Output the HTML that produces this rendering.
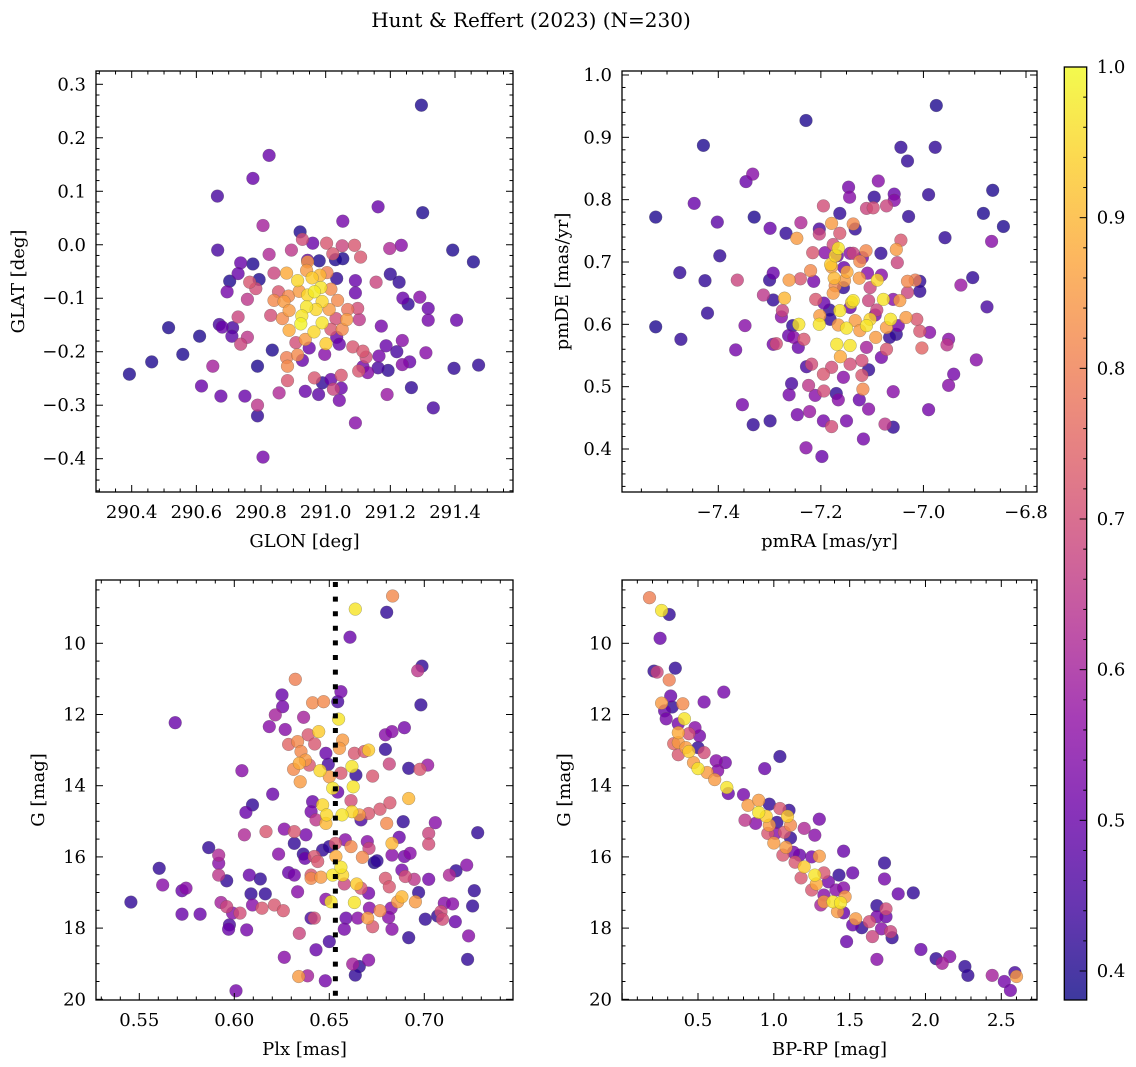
<!DOCTYPE html>
<html><head><meta charset="utf-8"><title>Hunt & Reffert (2023)</title>
<style>
html,body{margin:0;padding:0;background:#fff;}
svg{display:block;font-family:"DejaVu Serif","Liberation Serif",serif;}
</style></head>
<body>
<svg id="fig" xmlns="http://www.w3.org/2000/svg" width="1136" height="1067" viewBox="0 0 1136 1067">
<rect width="1136" height="1067" fill="#fff"/>
<text x="531" y="27" text-anchor="middle" font-size="20">Hunt &amp; Reffert (2023) (N=230)</text>
</svg>
<script>
// ---------- DATA (value, value, membership probability) ----------
const tlPoints = [
[291.296,0.261,.4],[290.825,0.167,.5],[290.775,0.124,.5],[290.665,0.091,.45],[291.162,0.071,.5],[291.3,0.06,.4],[291.053,0.044,.52],[290.806,0.036,.6],[290.921,0.024,.4],[290.928,0.01,.7],[290.96,0.003,.5],[291.003,0.003,.72],[291.051,-0.002,.68],[291.089,-0.001,.72],[291.022,-0.017,.72],[291.108,-0.023,.72],[291.03,-0.028,.4],[291.053,-0.026,.4],[290.98,-0.03,.4],[290.944,-0.029,.5],[290.894,-0.01,.65],[290.825,-0.018,.62],[290.666,-0.01,.45],[291.198,-0.007,.62],[291.234,-0.001,.55],[291.393,-0.01,.4],[291.457,-0.032,.4],[290.737,-0.034,.5],[290.775,-0.036,.4],[290.729,-0.054,.5],[290.703,-0.068,.4],[290.695,-0.088,.52],[290.794,-0.065,.4],[290.765,-0.07,.72],[290.784,-0.082,.7],[290.84,-0.053,.68],[290.879,-0.053,.88],[290.913,-0.067,.95],[290.944,-0.032,.85],[290.941,-0.048,.85],[290.958,-0.062,.93],[290.982,-0.057,.9],[291.004,-0.052,.8],[291.034,-0.063,.42],[291.016,-0.083,.82],[290.985,-0.08,.97],[290.965,-0.088,.98],[290.944,-0.094,.95],[290.918,-0.087,.85],[290.885,-0.096,.82],[290.854,-0.088,.72],[290.84,-0.104,.82],[290.871,-0.106,.85],[290.989,-0.106,.95],[291.037,-0.104,.82],[291.092,-0.067,.5],[291.092,-0.09,.5],[291.156,-0.07,.68],[291.2,-0.055,.42],[291.227,-0.07,.42],[291.239,-0.1,.5],[291.255,-0.111,.42],[291.291,-0.098,.55],[291.317,-0.119,.5],[291.317,-0.141,.52],[291.405,-0.141,.5],[290.758,-0.102,.65],[290.887,-0.123,.85],[290.941,-0.116,.97],[290.97,-0.121,.95],[291.011,-0.121,.85],[291.068,-0.121,.78],[291.099,-0.119,.7],[291.104,-0.14,.65],[291.065,-0.14,.85],[291.032,-0.138,.7],[290.989,-0.146,.97],[290.926,-0.133,.97],[290.923,-0.148,.99],[290.866,-0.138,.82],[290.83,-0.132,.7],[290.729,-0.135,.68],[290.671,-0.149,.45],[290.68,-0.154,.5],[290.712,-0.155,.45],[290.71,-0.171,.48],[290.758,-0.173,.65],[290.737,-0.186,.68],[290.887,-0.16,.88],[290.964,-0.163,.95],[291.016,-0.158,.72],[291.051,-0.158,.82],[291.034,-0.173,.5],[291.042,-0.186,.5],[291.001,-0.185,.93],[290.937,-0.177,.85],[290.908,-0.183,.7],[290.949,-0.193,.5],[290.997,-0.205,.55],[290.913,-0.206,.82],[290.879,-0.211,.8],[290.928,-0.216,.5],[290.882,-0.227,.82],[290.835,-0.197,.4],[290.789,-0.227,.4],[290.651,-0.227,.6],[290.514,-0.155,.4],[290.61,-0.171,.4],[290.558,-0.205,.4],[290.462,-0.219,.4],[290.393,-0.242,.4],[290.616,-0.264,.5],[290.676,-0.283,.5],[290.75,-0.283,.5],[290.789,-0.3,.65],[290.789,-0.32,.42],[290.806,-0.397,.52],[290.856,-0.277,.62],[290.882,-0.254,.72],[290.937,-0.274,.5],[290.965,-0.249,.72],[290.99,-0.258,.42],[291.016,-0.252,.5],[290.978,-0.28,.48],[291.024,-0.27,.68],[291.048,-0.268,.5],[291.042,-0.291,.52],[291.048,-0.244,.72],[291.084,-0.191,.72],[291.115,-0.199,.72],[291.125,-0.21,.7],[291.102,-0.236,.72],[291.115,-0.228,.52],[291.13,-0.239,.55],[291.162,-0.23,.45],[291.165,-0.208,.52],[291.172,-0.152,.52],[291.187,-0.189,.5],[291.193,-0.235,.42],[291.22,-0.2,.45],[291.237,-0.179,.55],[291.237,-0.224,.55],[291.26,-0.219,.5],[291.31,-0.202,.55],[291.19,-0.28,.58],[291.265,-0.267,.42],[291.333,-0.305,.45],[291.092,-0.333,.55],[291.397,-0.231,.42],[291.473,-0.225,.42]
];
const trPoints = [
[-6.975,0.951,.4],[-7.229,0.927,.4],[-7.429,0.887,.4],[-7.044,0.884,.42],[-6.977,0.884,.42],[-7.031,0.862,.42],[-7.333,0.841,.55],[-7.346,0.829,.5],[-7.447,0.794,.5],[-7.088,0.83,.55],[-7.146,0.82,.52],[-7.144,0.804,.55],[-7.096,0.804,.42],[-7.057,0.809,.5],[-7.057,0.799,.55],[-6.99,0.808,.42],[-6.865,0.815,.4],[-6.883,0.778,.4],[-6.844,0.757,.4],[-6.867,0.733,.55],[-6.958,0.739,.42],[-7.522,0.772,.4],[-7.402,0.764,.48],[-7.33,0.772,.4],[-7.299,0.754,.5],[-7.268,0.746,.42],[-7.247,0.738,.85],[-7.239,0.763,.62],[-7.195,0.79,.7],[-7.163,0.778,.42],[-7.111,0.786,.68],[-7.098,0.787,.7],[-7.072,0.79,.68],[-7.029,0.773,.42],[-7.203,0.753,.45],[-7.203,0.745,.68],[-7.179,0.762,.85],[-7.163,0.746,.72],[-7.137,0.761,.82],[-7.133,0.753,.42],[-7.397,0.71,.42],[-7.475,0.683,.42],[-7.426,0.67,.42],[-7.421,0.618,.42],[-7.522,0.596,.4],[-7.473,0.576,.42],[-7.363,0.671,.68],[-7.366,0.559,.52],[-7.348,0.598,.55],[-7.312,0.647,.65],[-7.293,0.682,.5],[-7.3,0.671,.42],[-7.293,0.639,.42],[-7.275,0.622,.68],[-7.277,0.612,.55],[-7.271,0.642,.9],[-7.262,0.671,.85],[-7.24,0.673,.72],[-7.22,0.686,.82],[-7.216,0.715,.72],[-7.214,0.669,.52],[-7.21,0.64,.72],[-7.243,0.6,.97],[-7.255,0.598,.42],[-7.263,0.582,.5],[-7.253,0.579,.55],[-7.233,0.576,.72],[-7.244,0.563,.5],[-7.287,0.569,.7],[-7.293,0.568,.52],[-7.192,0.715,.55],[-7.176,0.728,.7],[-7.166,0.722,.97],[-7.172,0.71,.95],[-7.181,0.696,.93],[-7.179,0.692,.85],[-7.168,0.71,.5],[-7.143,0.714,.55],[-7.137,0.714,.68],[-7.112,0.718,.82],[-7.124,0.701,.82],[-7.119,0.707,.52],[-7.083,0.714,.42],[-7.051,0.699,.68],[-7.053,0.72,.85],[-7.044,0.735,.72],[-7.155,0.691,.5],[-7.149,0.684,.88],[-7.154,0.67,.85],[-7.174,0.674,.9],[-7.125,0.674,.85],[-7.109,0.682,.55],[-7.09,0.671,.95],[-7.082,0.679,.55],[-7.104,0.659,.68],[-7.156,0.659,.42],[-7.176,0.65,.85],[-7.172,0.662,.82],[-7.194,0.634,.5],[-7.183,0.623,.42],[-7.163,0.622,.97],[-7.143,0.627,.5],[-7.137,0.638,.97],[-7.14,0.635,.95],[-7.107,0.638,.68],[-7.091,0.623,.68],[-7.078,0.64,.97],[-7.059,0.64,.55],[-7.046,0.638,.85],[-7.031,0.651,.68],[-7.031,0.669,.82],[-7.016,0.671,.8],[-7.007,0.669,.42],[-7.007,0.653,.42],[-6.927,0.663,.58],[-6.904,0.675,.42],[-6.876,0.628,.45],[-7.202,0.614,.85],[-7.203,0.6,.97],[-7.182,0.608,.42],[-7.166,0.599,.85],[-7.15,0.594,.97],[-7.133,0.606,.85],[-7.124,0.59,.85],[-7.111,0.598,.97],[-7.104,0.608,.95],[-7.094,0.615,.52],[-7.072,0.595,.85],[-7.064,0.608,.97],[-7.049,0.598,.52],[-7.053,0.584,.42],[-7.066,0.579,.42],[-7.034,0.611,.85],[-7.013,0.608,.72],[-7.007,0.589,.72],[-6.988,0.587,.55],[-6.951,0.576,.55],[-6.954,0.567,.65],[-7.003,0.562,.75],[-6.897,0.543,.55],[-6.941,0.52,.52],[-6.951,0.502,.55],[-6.99,0.463,.52],[-7.169,0.568,.97],[-7.143,0.566,.97],[-7.162,0.548,.88],[-7.111,0.563,.6],[-7.093,0.579,.85],[-7.072,0.56,.72],[-7.082,0.547,.52],[-7.12,0.542,.7],[-7.107,0.527,.42],[-7.12,0.518,.72],[-7.118,0.496,.82],[-7.143,0.536,.7],[-7.179,0.531,.7],[-7.218,0.536,.7],[-7.228,0.532,.45],[-7.195,0.52,.72],[-7.156,0.515,.55],[-7.257,0.505,.45],[-7.224,0.502,.65],[-7.194,0.493,.7],[-7.17,0.489,.42],[-7.211,0.486,.55],[-7.262,0.487,.52],[-7.166,0.479,.55],[-7.125,0.479,.5],[-7.059,0.492,.55],[-7.107,0.464,.55],[-7.222,0.46,.58],[-7.246,0.455,.52],[-7.353,0.471,.52],[-7.332,0.439,.42],[-7.299,0.445,.42],[-7.195,0.445,.52],[-7.179,0.436,.7],[-7.15,0.445,.52],[-7.075,0.44,.65],[-7.059,0.435,.42],[-7.117,0.416,.52],[-7.229,0.402,.55],[-7.198,0.388,.5]
];
const blPoints = [
[0.6833,8.67,.82],[0.6637,9.04,.97],[0.6802,9.13,.42],[0.6609,9.83,.5],[0.6988,10.64,.42],[0.6965,10.77,.65],[0.6982,11.73,.42],[0.6321,11.01,.8],[0.6561,11.36,.52],[0.6251,11.45,.5],[0.6412,11.67,.82],[0.647,11.64,.82],[0.6544,11.64,.45],[0.6254,11.78,.52],[0.6216,12.01,.6],[0.6184,12.34,.55],[0.6268,12.42,.55],[0.6365,12.08,.6],[0.6549,12.13,.97],[0.5689,12.23,.5],[0.6444,12.48,.93],[0.6389,12.57,.72],[0.6286,12.84,.75],[0.6333,12.76,.82],[0.6423,12.83,.72],[0.657,12.72,.85],[0.6553,12.95,.85],[0.6482,13.09,.5],[0.6351,13.04,.82],[0.6374,13.28,.85],[0.6342,13.37,.88],[0.6312,13.54,.82],[0.6395,13.42,.72],[0.6495,13.4,.45],[0.6451,13.58,.95],[0.65,13.75,.85],[0.6347,13.89,.85],[0.6561,13.65,.72],[0.664,13.7,.42],[0.6632,13.09,.72],[0.6684,13.04,.72],[0.6707,13.0,.93],[0.6619,13.46,.97],[0.6728,13.73,.72],[0.6816,13.39,.68],[0.6795,12.98,.42],[0.6795,12.57,.55],[0.683,12.48,.55],[0.6895,12.37,.52],[0.6918,13.51,.42],[0.6977,13.54,.72],[0.7018,13.42,.58],[0.604,13.58,.55],[0.6202,14.24,.5],[0.6518,14.07,.97],[0.6544,14.18,.5],[0.6626,14.03,.97],[0.6412,14.45,.5],[0.6465,14.54,.95],[0.6404,14.73,.52],[0.643,14.96,.65],[0.6486,14.82,.95],[0.6482,15.06,.9],[0.6567,14.82,.97],[0.6619,14.73,.95],[0.6658,14.82,.85],[0.6667,14.96,.45],[0.6614,14.42,.7],[0.6707,14.78,.72],[0.6767,14.66,.72],[0.6819,14.48,.72],[0.6918,14.36,.9],[0.6802,15.06,.82],[0.6889,15.01,.42],[0.7058,15.04,.55],[0.6096,14.54,.42],[0.6061,14.75,.5],[0.7281,15.32,.42],[0.6053,15.38,.62],[0.6167,15.29,.72],[0.6263,15.22,.55],[0.6316,15.29,.72],[0.6377,15.38,.52],[0.6316,15.62,.42],[0.5865,15.74,.42],[0.5918,15.95,.62],[0.5918,16.18,.55],[0.6233,15.92,.55],[0.6363,15.92,.42],[0.6372,16.04,.5],[0.6421,15.99,.72],[0.6439,16.13,.72],[0.6465,15.81,.42],[0.65,15.71,.42],[0.6532,15.62,.72],[0.6535,15.99,.88],[0.6584,15.52,.55],[0.6614,15.71,.82],[0.67,15.57,.55],[0.6709,15.76,.68],[0.6674,16.01,.82],[0.6737,16.16,.4],[0.6751,16.11,.42],[0.683,15.62,.9],[0.6868,15.45,.5],[0.683,15.95,.55],[0.6895,15.99,.52],[0.6925,15.9,.55],[0.7023,15.34,.68],[0.7023,15.64,.7],[0.5605,16.32,.42],[0.5623,16.79,.55],[0.5725,16.95,.5],[0.5746,16.88,.55],[0.5456,17.27,.42],[0.5725,17.61,.5],[0.582,17.61,.5],[0.5918,16.51,.65],[0.596,16.67,.42],[0.6079,16.51,.5],[0.6137,16.62,.42],[0.6286,16.44,.5],[0.6316,16.51,.52],[0.6404,16.51,.72],[0.6404,16.6,.82],[0.6456,16.57,.85],[0.6518,16.51,.97],[0.6561,16.29,.97],[0.657,16.51,.95],[0.6579,16.76,.68],[0.6644,16.76,.93],[0.6667,16.88,.72],[0.6707,17.02,.52],[0.6795,16.6,.72],[0.6816,16.84,.72],[0.6882,16.37,.52],[0.69,16.55,.7],[0.6947,16.63,.65],[0.7023,16.63,.52],[0.7132,16.51,.62],[0.7167,16.39,.42],[0.7223,16.23,.55],[0.7263,16.95,.42],[0.7254,17.38,.42],[0.697,17.0,.42],[0.6882,17.12,.9],[0.686,17.26,.85],[0.6953,17.26,.85],[0.6088,17.04,.42],[0.6163,17.04,.42],[0.6333,16.98,.55],[0.593,17.28,.6],[0.596,17.4,.68],[0.5991,17.58,.55],[0.603,17.58,.7],[0.6096,17.35,.55],[0.6146,17.44,.72],[0.6211,17.35,.72],[0.6258,17.51,.72],[0.6482,17.19,.55],[0.6509,17.26,.97],[0.6632,17.28,.97],[0.6711,17.44,.55],[0.6767,17.51,.82],[0.6825,17.44,.55],[0.6812,17.7,.55],[0.7105,17.3,.55],[0.7149,17.32,.55],[0.7088,17.54,.7],[0.7096,17.75,.7],[0.7005,17.75,.42],[0.707,17.66,.42],[0.7163,17.82,.5],[0.5974,17.91,.45],[0.597,18.03,.5],[0.6065,18.05,.52],[0.6404,17.72,.45],[0.6421,17.72,.7],[0.6588,17.72,.5],[0.665,17.72,.55],[0.6702,17.72,.85],[0.6728,17.96,.72],[0.6579,18.03,.52],[0.683,18.03,.55],[0.6918,18.27,.42],[0.6342,18.15,.68],[0.65,18.38,.45],[0.643,18.61,.5],[0.6263,18.82,.55],[0.7233,18.22,.55],[0.7228,18.88,.42],[0.6707,18.9,.55],[0.6623,19.01,.6],[0.6658,19.08,.42],[0.6637,19.32,.42],[0.6339,19.36,.85],[0.6386,19.34,.6],[0.6479,19.48,.52],[0.6009,19.76,.52]
];
const brPoints = [
[0.18,8.72,.8],[0.26,9.08,.97],[0.31,9.19,.42],[0.25,9.86,.5],[0.23,10.81,.68],[0.21,10.78,.42],[0.35,10.7,.42],[0.31,11.03,.8],[0.67,11.37,.52],[0.54,11.65,.52],[0.26,11.68,.85],[0.32,11.48,.5],[0.4,11.7,.82],[0.33,11.79,.42],[0.28,11.9,.5],[0.41,12.12,.97],[0.29,12.12,.52],[0.37,12.26,.52],[0.48,12.37,.55],[0.51,12.6,.52],[0.37,12.51,.88],[0.44,12.54,.7],[0.34,12.82,.75],[0.37,12.79,.85],[0.42,12.93,.85],[0.5,12.93,.42],[0.44,13.04,.93],[0.37,13.13,.72],[0.54,13.07,.7],[0.47,13.35,.85],[0.5,13.52,.97],[0.62,13.3,.55],[0.68,13.35,.52],[0.63,13.58,.55],[0.56,13.63,.85],[0.61,13.83,.85],[0.69,14.05,.97],[0.7,14.22,.5],[1.04,13.18,.42],[0.94,13.52,.5],[0.8,14.25,.52],[0.83,14.55,.85],[0.9,14.41,.85],[0.97,14.52,.42],[0.9,14.75,.97],[0.95,14.86,.93],[0.81,14.97,.65],[0.88,15.06,.55],[1.04,14.64,.72],[1.1,14.69,.42],[1.09,14.86,.93],[1.02,15.03,.42],[0.97,15.11,.85],[1.11,15.11,.82],[0.96,15.34,.72],[1.01,15.34,.55],[1.07,15.31,.72],[1.11,15.47,.42],[1.3,14.94,.52],[1.2,15.2,.62],[1.27,15.39,.55],[1.0,15.61,.85],[1.08,15.73,.85],[1.06,15.95,.72],[1.13,15.87,.52],[1.17,15.95,.5],[1.25,16.0,.52],[1.3,15.98,.85],[1.14,16.15,.72],[1.2,16.28,.93],[1.46,15.84,.5],[1.27,16.51,.97],[1.33,16.45,.72],[1.43,16.51,.42],[1.52,16.45,.5],[1.18,16.59,.72],[1.28,16.76,.88],[1.25,16.93,.72],[1.36,16.7,.52],[1.41,16.93,.55],[1.46,16.87,.55],[1.73,16.17,.42],[1.73,16.62,.52],[1.33,17.07,.55],[1.39,17.26,.97],[1.44,17.29,.97],[1.47,17.12,.85],[1.33,17.26,.85],[1.31,17.35,.6],[1.42,17.54,.85],[1.46,17.57,.5],[1.54,17.74,.85],[1.52,17.91,.5],[1.58,17.99,.42],[1.63,17.82,.7],[1.68,17.37,.42],[1.68,17.68,.52],[1.74,17.46,.7],[1.74,17.68,.5],[1.71,18.02,.55],[1.77,18.1,.68],[1.78,18.27,.42],[1.65,18.24,.68],[1.48,18.38,.5],[1.82,17.04,.5],[1.92,17.01,.42],[1.97,18.6,.5],[1.68,18.88,.55],[2.07,18.86,.42],[2.11,18.99,.6],[2.16,18.8,.55],[2.26,19.08,.42],[2.28,19.33,.42],[2.44,19.33,.6],[2.52,19.5,.52],[2.56,19.75,.52],[2.59,19.25,.45],[2.6,19.36,.85]
];
const tlXTicks = [290.4,290.6,290.8,291.0,291.2,291.4];
const tlYTicks = [-0.4,-0.3,-0.2,-0.1,0.0,0.1,0.2,0.3];
const trXTicks = [-7.4,-7.2,-7.0,-6.8];
const trYTicks = [0.4,0.5,0.6,0.7,0.8,0.9,1.0];
const blXTicks = [0.55,0.60,0.65,0.70];
const gTicks = [10,12,14,16,18,20];
const brXTicks = [0.5,1.0,1.5,2.0,2.5];
const cbTicks = [0.4,0.5,0.6,0.7,0.8,0.9,1.0];
const plxRef = [0.6532];
const VMIN = 0.381, VMAX = 1.0;

// ---------- helpers ----------
const NS = "http://www.w3.org/2000/svg";
const svg = document.getElementById('fig');
const FS = 18;
function el(tag, attrs, parent){
  const e = document.createElementNS(NS, tag);
  for (const k in attrs) e.setAttribute(k, attrs[k]);
  (parent || svg).appendChild(e);
  return e;
}
const PL = [[13,8,135],[65,4,157],[106,0,168],[143,13,164],[177,42,144],[204,71,120],[225,100,98],[242,132,75],[252,166,54],[252,206,37],[240,249,33]];
function plasma(t){
  t = Math.max(0, Math.min(1, t));
  const f = t*10, i = Math.min(9, Math.floor(f)), u = f - i;
  const a = PL[i], b = PL[i+1];
  return 'rgb(' + [0,1,2].map(k => Math.round(a[k] + (b[k]-a[k])*u)).join(',') + ')';
}
function colorOf(p){ return plasma((p - VMIN)/(VMAX - VMIN)); }
function lin(d0,d1,p0,p1){ return v => p0 + (v-d0)*(p1-p0)/(d1-d0); }
function fmt(v, dec){ const s = Math.abs(v).toFixed(dec); return (v < -1e-9 ? '\u2212' : '') + s; }

function panel(cfg){
  const g = el('g', {});
  
  
  const {L,R,T,B} = cfg;
  const sx = lin(cfg.xd[0], cfg.xd[1], cfg.xp[0], cfg.xp[1]);
  const sy = lin(cfg.yd[0], cfg.yd[1], cfg.yp[0], cfg.yp[1]);
  const cid = cfg.name + '-clip';
  const cp = el('clipPath', {id: cid}, g);
  el('rect', {x:L, y:T, width:R-L, height:B-T}, cp);
  const pg = el('g', {'clip-path': 'url(#' + cid + ')'}, g);
  
  
  const pts = cfg.points.slice().sort((a,b) => a[2]-b[2]);
  pts.forEach(d => {
    const c = el('circle', {cx: sx(d[0]).toFixed(1), cy: sy(d[1]).toFixed(1), r: 6.4, fill: colorOf(d[2]), 'fill-opacity': 0.8, stroke: '#555', 'stroke-opacity': 0.5, 'stroke-width': 0.5}, pg);
    
    
  });
  if (cfg.vline){
    cfg.vline.forEach(v => {
      const ln = el('line', {x1: sx(v), x2: sx(v), y1: T+2, y2: B, stroke: '#000', 'stroke-width': 5, 'stroke-dasharray': '5 9.6'}, g);
      
      
    });
  }
  const tg = el('g', {stroke: '#000', 'stroke-width': 1}, g);
  function inX(x){ return x >= L-0.5 && x <= R+0.5; }
  function inY(y){ return y >= T-0.5 && y <= B+0.5; }
  const xStep = cfg.xTicks[1]-cfg.xTicks[0], yStep = cfg.yTicks[1]-cfg.yTicks[0];
  for (let k = -40; k <= 40*cfg.xMinor; k++){
    const v = cfg.xTicks[0] + k*xStep/cfg.xMinor, x = sx(v);
    if (!inX(x)) continue;
    const len = (k % cfg.xMinor === 0) ? 7 : 3.5;
    el('line', {x1:x, x2:x, y1:B, y2:B-len}, tg);
    el('line', {x1:x, x2:x, y1:T, y2:T+len}, tg);
  }
  for (let k = -60; k <= 60*cfg.yMinor; k++){
    const v = cfg.yTicks[0] + k*yStep/cfg.yMinor, y = sy(v);
    if (!inY(y)) continue;
    const len = (k % cfg.yMinor === 0) ? 7 : 3.5;
    el('line', {x1:L, x2:L+len, y1:y, y2:y}, tg);
    el('line', {x1:R, x2:R-len, y1:y, y2:y}, tg);
  }
  const fr = el('rect', {x:L, y:T, width:R-L, height:B-T, fill:'none', stroke:'#000', 'stroke-width':1.3}, g);
  
  
  cfg.xTicks.forEach(v => {
    const t = el('text', {x: sx(v), y: B+26, 'text-anchor':'middle', 'font-size': FS}, g);
    t.textContent = fmt(v, cfg.xDec);
    
    
  });
  cfg.yTicks.forEach(v => {
    const t = el('text', {x: L-10, y: sy(v)+6, 'text-anchor':'end', 'font-size': FS}, g);
    t.textContent = fmt(v, cfg.yDec);
    
    
  });
  const xl = el('text', {x:(L+R)/2, y:B+55, 'text-anchor':'middle', 'font-size': FS}, g);
  xl.textContent = cfg.xLabel;
  
  
  const yx = cfg.yLabelX, yy = (T+B)/2;
  const yl = el('text', {x:yx, y:yy, 'text-anchor':'middle', 'font-size': FS, transform:'rotate(-90 ' + yx + ' ' + yy + ')'}, g);
  yl.textContent = cfg.yLabel;
  
  
}

panel({name:'glon-glat-panel', L:96, R:513, T:71, B:492, xd:[290.4,291.4], xp:[131.7,455], yd:[0.3,-0.4], yp:[84.3,458.7],
  points: tlPoints, xTicks: tlXTicks, yTicks: tlYTicks, xMinor:4, yMinor:5, xDec:1, yDec:1, xLabel:'GLON [deg]', yLabel:'GLAT [deg]', yLabelX:24});
panel({name:'pm-panel', L:622, R:1037, T:71, B:492, xd:[-7.4,-6.8], xp:[718.3,1026], yd:[1.0,0.4], yp:[75,449],
  points: trPoints, xTicks: trXTicks, yTicks: trYTicks, xMinor:4, yMinor:5, xDec:1, yDec:1, xLabel:'pmRA [mas/yr]', yLabel:'pmDE [mas/yr]', yLabelX:568});
panel({name:'plx-g-panel', L:96, R:513, T:580, B:1000, xd:[0.55,0.70], xp:[139.3,424.3], yd:[10,20], yp:[643.3,999.3],
  points: blPoints, xTicks: blXTicks, yTicks: gTicks, xMinor:5, yMinor:4, xDec:2, yDec:0, xLabel:'Plx [mas]', yLabel:'G [mag]', yLabelX:44, vline: plxRef});
panel({name:'cmd-panel', L:622, R:1037, T:580, B:1000, xd:[0.5,2.5], xp:[698,1001.3], yd:[10,20], yp:[643.3,999.3],
  points: brPoints, xTicks: brXTicks, yTicks: gTicks, xMinor:5, yMinor:4, xDec:1, yDec:0, xLabel:'BP-RP [mag]', yLabel:'G [mag]', yLabelX:570});

// ---------- colorbar ----------
(function(){
  const L = 1064.3, R = 1086.7, T = 67, B = 1000;
  const sc = lin(0.4, 1.0, 971, 67);
  const g = el('g', {});
  
  
  const defs = el('defs', {}, g);
  const gr = el('linearGradient', {id:'cbgrad', x1:0, y1:1, x2:0, y2:0}, defs);
  for (let i = 0; i <= 20; i++){
    el('stop', {offset: (i/20), 'stop-color': plasma(i/20), 'stop-opacity': 0.8}, gr);
  }
  el('rect', {x:L, y:T, width:R-L, height:B-T, fill:'url(#cbgrad)'}, g);
  const tg = el('g', {stroke:'#000', 'stroke-width':1}, g);
  for (let k = 0; k <= 40; k++){
    const v = 0.38 + k*0.02; const y = sc(v);
    if (y < T-0.5 || y > B+0.5) continue;
    const major = Math.abs(v*10 - Math.round(v*10)) < 1e-6;
    el('line', {x1:R, x2:R-(major?7:3.5), y1:y, y2:y}, tg);
  }
  el('rect', {x:L, y:T, width:R-L, height:B-T, fill:'none', stroke:'#000', 'stroke-width':1.3}, g);
  cbTicks.forEach(v => {
    const t = el('text', {x: R+10, y: sc(v)+6, 'font-size': FS}, g);
    t.textContent = v.toFixed(1);
    
    
  });
})();
</script>
</body></html>
